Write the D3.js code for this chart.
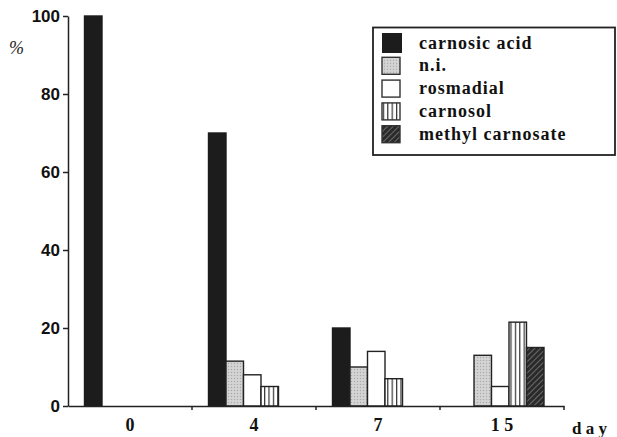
<!DOCTYPE html>
<html>
<head>
<meta charset="utf-8">
<script src="https://cdn.jsdelivr.net/npm/d3@7/dist/d3.min.js"></script>
<style>
  html, body { margin: 0; padding: 0; background: #fff; }
  svg { display: block; }
</style>
</head>
<body>
<svg id="chart" width="617" height="437"></svg>
<script>
// ---- data ----
const days = ["0", "4", "7", "1 5"];
const seriesNames = ["carnosic acid", "n.i.", "rosmadial", "carnosol", "methyl carnosate"];
const carnosicAcid = [100, 70, 20, 0];
const ni = [0, 11.5, 10, 13];
const rosmadial = [0, 8, 14, 5];
const carnosol = [0, 5, 7, 21.5];
const methylCarnosate = [0, 0, 0, 15];
const yTicks = [0, 20, 40, 60, 80, 100];
const xTitle = "d a y";
const yTitle = "%";

const seriesValues = [carnosicAcid, ni, rosmadial, carnosol, methylCarnosate];

const svg = d3.select("#chart");
const defs = svg.append("defs");

// stipple (n.i.)
const pStip = defs.append("pattern").attr("id", "stip").attr("patternUnits", "userSpaceOnUse")
  .attr("width", 3).attr("height", 3);
pStip.append("rect").attr("width", 3).attr("height", 3).attr("fill", "#cfcfcf");
pStip.append("rect").attr("x", 0).attr("y", 0).attr("width", 1).attr("height", 1).attr("fill", "#a8a8a8");
pStip.append("rect").attr("x", 1.5).attr("y", 1.5).attr("width", 1).attr("height", 1).attr("fill", "#e6e6e6");

// vertical stripes (carnosol)
const pV = defs.append("pattern").attr("id", "vstripe").attr("patternUnits", "userSpaceOnUse")
  .attr("width", 4.4).attr("height", 10);
pV.append("rect").attr("width", 4.4).attr("height", 10).attr("fill", "#fff");
pV.append("rect").attr("x", 0).attr("width", 1.2).attr("height", 10).attr("fill", "#333");

// diagonal hatch (methyl carnosate)
const pD = defs.append("pattern").attr("id", "diag").attr("patternUnits", "userSpaceOnUse")
  .attr("width", 4).attr("height", 4).attr("patternTransform", "rotate(45)");
pD.append("rect").attr("width", 4).attr("height", 4).attr("fill", "#2a2a2a");
pD.append("rect").attr("x", 0).attr("width", 1).attr("height", 4).attr("fill", "#6a6a6a");

const fills = ["#1c1c1c", "url(#stip)", "#ffffff", "url(#vstripe)", "url(#diag)"];
const strokes = ["#1c1c1c", "#222", "#222", "#222", "#222"];

// ---- scales ----
const x0 = d3.scaleBand().domain(days).range([68, 564]).padding(0);
const x1 = d3.scaleBand().domain(seriesNames).range([16.5, 104]).padding(0);
const y = d3.scaleLinear().domain([0, 100]).range([406, 16]);

// ---- bars ----
const barData = [];
seriesNames.forEach((s, si) => {
  days.forEach((d, di) => {
    const v = seriesValues[si][di];
    if (v > 0) barData.push({ s, si, d, v });
  });
});

svg.append("g").selectAll("rect").data(barData).join("rect")
  .attr("x", b => x0(b.d) + x1(b.s))
  .attr("y", b => y(b.v))
  .attr("width", x1.bandwidth())
  .attr("height", b => y(0) - y(b.v))
  .attr("fill", b => fills[b.si])
  .attr("stroke", b => strokes[b.si])
  .attr("stroke-width", 1.4);

// ---- y axis ----
const yAxis = svg.append("g").attr("transform", "translate(68,0)")
  .call(d3.axisLeft(y).tickValues(yTicks).tickSize(5).tickSizeOuter(0).tickPadding(3));
yAxis.select(".domain").attr("stroke", "#222").attr("stroke-width", 1.5);
yAxis.selectAll(".tick line").attr("stroke", "#222").attr("stroke-width", 1.5);
yAxis.selectAll(".tick text")
  .attr("font-family", "'Liberation Sans', Arial, sans-serif")
  .attr("font-weight", "bold").attr("font-size", 17).attr("fill", "#111");

// ---- x axis ----
const xAxis = svg.append("g").attr("transform", "translate(0,406)")
  .call(d3.axisBottom(x0).tickSize(0).tickSizeOuter(0).tickPadding(12));
xAxis.select(".domain").attr("stroke", "#222").attr("stroke-width", 1.5);
xAxis.selectAll(".tick text")
  .attr("font-family", "'Liberation Serif', 'Times New Roman', serif")
  .attr("font-weight", "bold").attr("font-size", 18).attr("fill", "#111");
// boundary ticks
svg.append("g").selectAll("line").data(days).join("line")
  .attr("x1", d => x0(d) + x0.bandwidth()).attr("x2", d => x0(d) + x0.bandwidth())
  .attr("y1", 406).attr("y2", 410)
  .attr("stroke", "#222").attr("stroke-width", 1.5);

// axis titles
svg.append("text").attr("x", 572).attr("y", 434)
  .attr("font-family", "'Liberation Serif', 'Times New Roman', serif")
  .attr("font-weight", "bold").attr("font-size", 17)
  .attr("fill", "#111").text(xTitle);
svg.append("text").attr("x", 9).attr("y", 54)
  .attr("font-family", "'Liberation Serif', 'Times New Roman', serif")
  .attr("font-style", "italic").attr("font-size", 18)
  .attr("fill", "#222").text(yTitle);

// ---- legend ----
const legend = svg.append("g");
legend.append("rect").attr("x", 373).attr("y", 27.5).attr("width", 242).attr("height", 127.5)
  .attr("fill", "#fff").attr("stroke", "#222").attr("stroke-width", 1.8);
const lg = legend.selectAll("g.item").data(seriesNames).join("g").attr("class", "item")
  .attr("transform", (d, i) => `translate(0,${43 + i * 22.8})`);
lg.append("rect")
  .attr("x", 382).attr("y", (d, i) => i === 0 ? -10 : -8.5)
  .attr("width", (d, i) => i === 0 ? 20 : 18)
  .attr("height", (d, i) => i === 0 ? 20 : 17)
  .attr("fill", (d, i) => fills[i])
  .attr("stroke", (d, i) => i === 0 ? "none" : "#333")
  .attr("stroke-width", 1.4);
lg.append("text").attr("x", 419).attr("y", 5.5)
  .attr("font-family", "'Liberation Serif', 'Times New Roman', serif")
  .attr("font-weight", "bold").attr("font-size", 18).attr("letter-spacing", "1px")
  .attr("fill", "#111").text(d => d);
</script>
</body>
</html>
